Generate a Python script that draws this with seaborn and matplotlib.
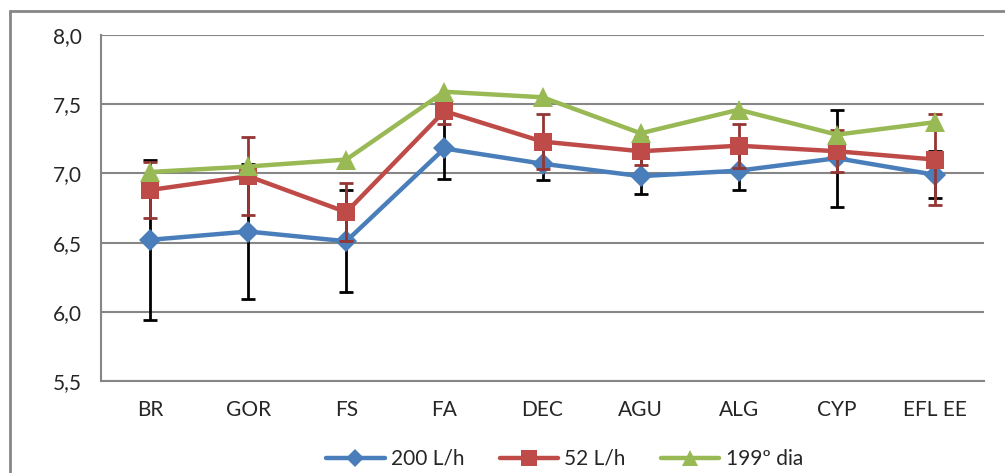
import pandas as pd
import numpy as np
import matplotlib.pyplot as plt
import seaborn as sns
from matplotlib.patches import Rectangle

# data
categories = ["BR", "GOR", "FS", "FA", "DEC", "AGU", "ALG", "CYP", "EFL EE"]
v200 = [6.52, 6.58, 6.51, 7.18, 7.07, 6.98, 7.02, 7.11, 6.99]
err200 = [0.58, 0.49, 0.37, 0.22, 0.12, 0.13, 0.14, 0.35, 0.17]
v52 = [6.88, 6.98, 6.72, 7.45, 7.23, 7.16, 7.20, 7.16, 7.10]
err52 = [0.20, 0.28, 0.21, 0.09, 0.20, 0.10, 0.16, 0.15, 0.33]
v199 = [7.01, 7.05, 7.10, 7.59, 7.55, 7.29, 7.46, 7.28, 7.37]
series = ["200 L/h", "52 L/h", "199º dia"]

df = pd.DataFrame({
    "cat": categories * 3,
    "val": v200 + v52 + v199,
    "serie": [series[0]] * 9 + [series[1]] * 9 + [series[2]] * 9,
})

sns.set_style("white")
plt.rcParams['font.family'] = ['Lato', 'DejaVu Sans']

colors = ["#4A7EBB", "#BE4B48", "#98B954"]
markers = ["D", "s", "^"]
msizes = [11, 13, 14]
errcolors = ["black", "#943634"]
errs = [err200, err52, None]

fig = plt.figure(figsize=(10.05, 4.73), dpi=100)
ax = fig.add_axes([101 / 1005, 1 - 381 / 473, (984 - 101) / 1005, (381 - 35) / 473])

x = np.arange(len(categories))
for i, s in enumerate(series):
    sub = df[df["serie"] == s]
    if errs[i] is not None:
        ax.errorbar(x, sub["val"], yerr=errs[i], fmt="none", ecolor=errcolors[i],
                    elinewidth=2, capsize=5, capthick=2, zorder=2 + i * 2)
    sns.lineplot(data=sub, x="cat", y="val", ax=ax, color=colors[i], marker=markers[i],
                 markersize=msizes[i], markeredgewidth=0, linewidth=3.2, label=s,
                 sort=False, zorder=3 + i * 2)

ax.set_xlim(-0.5, len(categories) - 0.5)
ax.set_ylim(5.5, 8.0)
ax.set_yticks(np.arange(5.5, 8.01, 0.5))
ax.set_yticklabels([f"{t:.1f}".replace(".", ",") for t in np.arange(5.5, 8.01, 0.5)], fontsize=15)
ax.set_xticks(x)
ax.set_xticklabels(categories, fontsize=15)
ax.set_xticks(np.arange(-0.5, len(categories)), minor=True)
ax.tick_params(axis="x", which="major", length=0, pad=14)
ax.tick_params(axis="x", which="minor", length=6, color="#868686", width=1.5, direction="out")
ax.tick_params(axis="y", length=6, color="#868686", width=1.5, direction="out", pad=8)
ax.yaxis.grid(True, color="#868686", linewidth=1.5)
ax.set_axisbelow(True)
ax.set_xlabel("")
ax.set_ylabel("")
for side in ["top", "right"]:
    ax.spines[side].set_visible(False)
for side in ["left", "bottom"]:
    ax.spines[side].set_color("#868686")
    ax.spines[side].set_linewidth(1.5)

ax.legend(loc="center", bbox_to_anchor=(0.525, -0.225), ncol=3, frameon=False,
          fontsize=15, handlelength=2.8, columnspacing=1.7, handletextpad=0.3,
          markerscale=0.85)

fig.patches.append(Rectangle((10 / 1005, -0.1), 1.2, 1 - 11 / 473 + 0.1, transform=fig.transFigure,
                             fill=False, edgecolor="#868686", linewidth=2))

fig.savefig("out.png", dpi=100)
